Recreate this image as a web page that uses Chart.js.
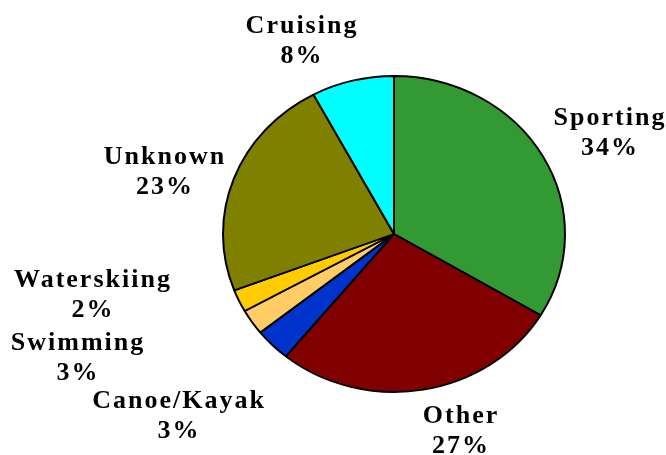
<!DOCTYPE html>
<html>
<head>
<meta charset="utf-8">
<script src="https://cdn.jsdelivr.net/npm/chart.js@4"></script>
<style>
  html, body { margin: 0; padding: 0; background: #fff; }
  #wrap { width: 666px; height: 455px; }
</style>
</head>
<body>
<div id="wrap"><canvas id="pie-chart" width="666" height="455"></canvas></div>
<script>
const categories = ['Sporting', 'Other', 'Canoe/Kayak', 'Swimming', 'Waterskiing', 'Unknown', 'Cruising'];
const shares = [33.6, 27.3, 3.4, 2.6, 2.3, 23.0, 7.8];
const sliceColors = ['#339933', '#800000', '#0033CC', '#FFCC66', '#FFCC00', '#808000', '#00FFFF'];

// where each label block sits, relative to the pie centre
const labelOffsets = [
  [215, -104], [66, 194], [-216, 179], [-317, 121], [-302, 58], [-230, -65], [-93, -196]
];

// squash the pie vertically a bit, like the original
const ySquash = 0.924;

const squashPlugin = {
  id: 'squash',
  beforeDatasetsDraw(chart) {
    const arc = chart.getDatasetMeta(0).data[0];
    const ctx = chart.ctx;
    ctx.save();
    ctx.translate(0, arc.y);
    ctx.scale(1, ySquash);
    ctx.translate(0, -arc.y);
  },
  afterDatasetsDraw(chart) {
    chart.ctx.restore();
  }
};

const labelPlugin = {
  id: 'sliceLabels',
  afterDraw(chart) {
    const ctx = chart.ctx;
    const meta = chart.getDatasetMeta(0);
    const total = shares.reduce((a, b) => a + b, 0);
    ctx.save();
    ctx.fillStyle = '#000';
    ctx.font = 'bold 26px "Liberation Serif", "Times New Roman", serif';
    ctx.letterSpacing = '2px';
    ctx.textAlign = 'center';
    ctx.textBaseline = 'alphabetic';
    meta.data.forEach((arc, i) => {
      const x = arc.x + labelOffsets[i][0];
      const y = arc.y + labelOffsets[i][1];
      const pct = Math.round(shares[i] / total * 100) + '%';
      ctx.fillText(categories[i], x + 1, y - 5);
      ctx.fillText(pct, x + 1, y + 25);
    });
    ctx.restore();
  }
};

const pieconfig = {
  type: 'pie',
  data: {
    labels: categories,
    datasets: [{
      data: shares,
      backgroundColor: sliceColors,
      borderColor: '#000',
      borderWidth: 2,
      hoverOffset: 0
    }]
  },
  options: {
    responsive: false,
    animation: false,
    layout: {
      padding: { left: 222, right: 100, top: 62, bottom: 49 }
    },
    plugins: {
      legend: { display: false },
      tooltip: { enabled: false }
    }
  },
  plugins: [squashPlugin, labelPlugin]
};

const chartElement = document.getElementById('pie-chart').getContext('2d');
const pieChart = new Chart(chartElement, pieconfig);
</script>
</body>
</html>
